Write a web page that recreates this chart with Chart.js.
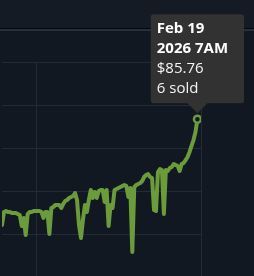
<!DOCTYPE html>
<html>
<head>
<meta charset="utf-8">
<script src="https://cdn.jsdelivr.net/npm/chart.js@4"></script>
<style>
  html, body { margin: 0; padding: 0; }
  body { width: 254px; height: 276px; overflow: hidden; background: #111821; position: relative; }
  .top { position: absolute; left: 0; top: 0; width: 254px; height: 28px; background: #151b25; border-bottom: 1px solid #050709; }
  .rule { position: absolute; left: 0; top: 29px; width: 254px; height: 2px; background: #26303c; }
  .wrap { position: absolute; left: 0; top: 0; width: 254px; height: 280px; }
</style>
</head>
<body>
<div class="top"></div>
<div class="rule"></div>
<div class="wrap"><canvas id="priceChart" width="254" height="280"></canvas></div>
<script>
// hourly median sale price
const prices = [
  61.27, 64.28, 64.51, 64.28, 64.28, 64.05, 64.05, 64.05, 63.81, 63.58,
  61.04, 62.89, 58.95, 63.81, 64.28, 64.28, 64.51, 64.51, 64.51, 64.51,
  64.28, 62.89, 64.28, 64.28, 59.19, 65.20, 65.44, 65.90, 65.90, 65.90,
  65.20, 66.13, 66.82, 67.06, 67.52, 67.75, 67.98, 68.68, 67.06, 61.27,
  58.26, 62.43, 65.90, 64.28, 67.06, 69.37, 67.52, 68.91, 67.52, 69.14,
  69.37, 69.37, 66.59, 69.37, 61.04, 65.90, 65.20, 69.37, 69.60, 69.83,
  70.06, 70.30, 70.53, 70.30, 67.75, 69.83, 55.02, 70.06, 70.53, 70.76,
  70.99, 71.45, 72.38, 72.84, 73.07, 72.38, 72.15, 64.74, 64.51, 73.54,
  74.23, 74.00, 63.81, 74.00, 73.77, 74.46, 74.69, 75.39, 75.16, 74.93,
  73.77, 75.39, 75.62, 76.31, 77.01, 78.17, 79.56, 80.94, 82.80, 85.76
];
const hours = prices.map((p, i) => i);

const yMin = 49;
const yMax = 99;
const yStep = 10;
const xMax = 100.8;
const dayTicks = [17.5];

const hoverTitle = ['Feb 19', '2026 7AM'];
const hoverSold = 6;

const green = '#6b9b3b';
const gridColor = '#222c39';

const chart = new Chart(document.getElementById('priceChart'), {
  type: 'line',
  data: {
    datasets: [{
      data: hours.map((h, i) => ({ x: h, y: prices[i] })),
      borderColor: green,
      borderWidth: 4,
      tension: 0,
      borderJoinStyle: 'round',
      borderCapStyle: 'round',
      pointRadius: 0,
      pointHoverRadius: 3.5,
      pointHoverBorderWidth: 2.5,
      pointHoverBorderColor: green,
      pointHoverBackgroundColor: '#111821'
    }]
  },
  options: {
    responsive: false,
    animation: false,
    events: [],
    layout: { padding: { left: 0, right: 53, top: 62, bottom: 2 } },
    scales: {
      x: {
        type: 'linear',
        min: 0,
        max: xMax,
        afterBuildTicks: s => { s.ticks = dayTicks.map(v => ({ value: v })); },
        ticks: { display: false },
        grid: { color: gridColor, drawTicks: false },
        border: { display: false }
      },
      y: {
        position: 'right',
        min: yMin,
        max: yMax,
        ticks: { display: false, stepSize: yStep },
        grid: { color: gridColor, drawTicks: false },
        border: { display: true, color: gridColor }
      }
    },
    plugins: {
      legend: { display: false },
      tooltip: {
        backgroundColor: '#333232',
        titleColor: '#ffffff',
        bodyColor: '#f4f4f4',
        titleFont: { family: 'Open Sans', size: 15, weight: 'bold' },
        bodyFont: { family: 'Open Sans', size: 15 },
        titleSpacing: 2,
        titleMarginBottom: 2,
        bodySpacing: 2,
        padding: { top: 6, bottom: 5, left: 6, right: 16 },
        cornerRadius: 3,
        caretSize: 10,
        caretPadding: 6,
        xAlign: 'center',
        yAlign: 'bottom',
        displayColors: false,
        callbacks: {
          title: () => hoverTitle,
          label: ctx => ['$' + ctx.parsed.y.toFixed(2), hoverSold + ' sold']
        }
      }
    }
  }
});

const last = prices.length - 1;
chart.setActiveElements([{ datasetIndex: 0, index: last }]);
chart.tooltip.setActiveElements([{ datasetIndex: 0, index: last }], { x: 0, y: 0 });
chart.update();
</script>
</body>
</html>
